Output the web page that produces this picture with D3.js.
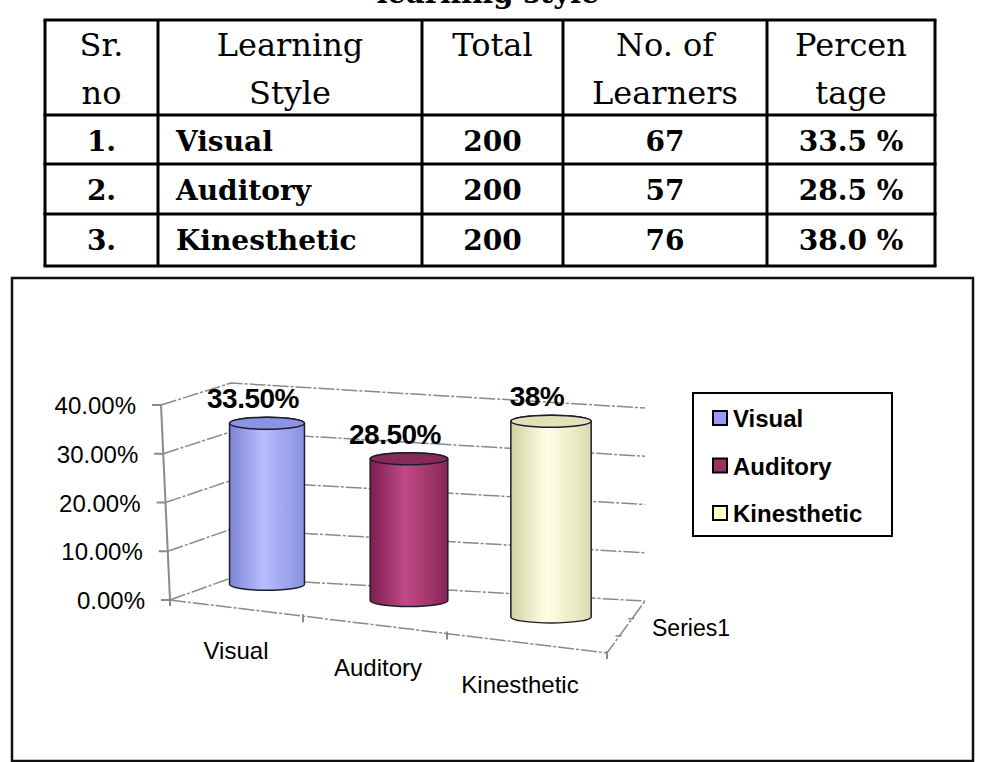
<!DOCTYPE html>
<html>
<head>
<meta charset="utf-8">
<script src="https://cdn.jsdelivr.net/npm/d3@7"></script>
<style>
body { margin: 0; background: #fff; }
</style>
</head>
<body>
<script>
// data
var categories = ["Visual", "Auditory", "Kinesthetic"];
var percentages = [33.5, 28.5, 38];
var barLabels = ["33.50%", "28.50%", "38%"];
var serialNos = ["1.", "2.", "3."];
var totals = [200, 200, 200];
var learners = [67, 57, 76];
var tablePercent = ["33.5 %", "28.5 %", "38.0 %"];
var headers = [["Sr.", "no"], ["Learning", "Style"], ["Total"], ["No. of", "Learners"], ["Percen", "tage"]];
var yTicks = [0, 10, 20, 30, 40];
var seriesName = "Series1";
var colors = ["#9999ff", "#993366", "#ffffcc"];

var W = 988, H = 762;
var svg = d3.select("body").append("svg")
    .attr("width", W)
    .attr("height", H);

var serif = "'DejaVu Serif', serif";
var sans = "'Liberation Sans', Arial, sans-serif";

// title (cut off at the top of the picture, as in the source)
svg.append("text")
    .attr("x", 488).attr("y", 3)
    .attr("text-anchor", "middle")
    .style("font-family", serif).style("font-weight", "bold").style("font-size", "29px")
    .text("learning  style");

// ---- table ----
var colX = [45, 158, 422, 563, 767, 935];
var rowY = [20, 115, 164, 214, 266];
var table = svg.append("g");

colX.forEach(function(x) {
    table.append("line").attr("x1", x).attr("x2", x).attr("y1", rowY[0]).attr("y2", rowY[4])
        .attr("stroke", "#000").attr("stroke-width", 3);
});
rowY.forEach(function(y) {
    table.append("line").attr("x1", colX[0] - 1.5).attr("x2", colX[5] + 1.5).attr("y1", y).attr("y2", y)
        .attr("stroke", "#000").attr("stroke-width", 3);
});

function colMid(i) { return (colX[i] + colX[i + 1]) / 2; }

headers.forEach(function(lines, i) {
    lines.forEach(function(t, j) {
        table.append("text")
            .attr("x", colMid(i)).attr("y", 56 + j * 48)
            .attr("text-anchor", "middle")
            .style("font-family", serif).style("font-size", "32px")
            .text(t);
    });
});

categories.forEach(function(c, r) {
    var y = rowY[r + 1] + 36;
    var cells = [serialNos[r], c, totals[r], learners[r], tablePercent[r]];
    cells.forEach(function(t, i) {
        table.append("text")
            .attr("x", i == 1 ? 176 : colMid(i)).attr("y", y)
            .attr("text-anchor", i == 1 ? "start" : "middle")
            .style("font-family", serif).style("font-weight", "bold").style("font-size", "28px")
            .text(t);
    });
});

// ---- chart box ----
svg.append("rect")
    .attr("x", 12).attr("y", 278).attr("width", 961).attr("height", 483)
    .attr("fill", "none").attr("stroke", "#111").attr("stroke-width", 2.5);

// walls (3d frame)
var yFront = d3.scaleLinear().domain([0, 40]).range([600, 405]);
var xFront = d3.scaleLinear().domain([0, 40]).range([170, 161]);
var yBackL = d3.scaleLinear().domain([0, 40]).range([578, 383]);
var yBackR = d3.scaleLinear().domain([0, 40]).range([601, 408]);
var backLX = 231, backRX = 645;
var frontEdge = d3.scaleLinear().domain([170, 607]).range([600, 653]);

var grid = svg.append("g")
    .attr("fill", "none").attr("stroke", "#8a8a8a").attr("stroke-width", 1.5);

yTicks.forEach(function(v) {
    grid.append("path")
        .attr("stroke-dasharray", "16,2,3,2")
        .attr("d", "M" + xFront(v) + "," + yFront(v) + "L" + backLX + "," + yBackL(v) + "L" + backRX + "," + yBackR(v));
    // tick mark
    grid.append("line")
        .attr("x1", xFront(v) - 9).attr("x2", xFront(v))
        .attr("y1", yFront(v)).attr("y2", yFront(v))
        .attr("stroke-width", 2);
    svg.append("text")
        .attr("x", xFront(v) - 25).attr("y", yFront(v) + 9)
        .attr("text-anchor", "end")
        .style("font-family", sans).style("font-size", "24px")
        .text(d3.format(".2%")(v / 100));
});

// y axis line
grid.append("line")
    .attr("x1", xFront(0)).attr("y1", yFront(0)).attr("x2", xFront(40)).attr("y2", yFront(40))
    .attr("stroke-width", 2);

// floor front and right edges
grid.append("path")
    .attr("stroke-dasharray", "16,2,3,2")
    .attr("d", "M170,600L607," + frontEdge(607) + "L" + backRX + "," + yBackR(0));

// category axis ticks
[170, 303, 447, 607].forEach(function(x) {
    grid.append("line")
        .attr("x1", x).attr("x2", x)
        .attr("y1", frontEdge(x) - 2).attr("y2", frontEdge(x) + 6)
        .attr("stroke-width", 2);
});
// series axis ticks
[0.33, 0.66].forEach(function(t) {
    var px = 607 + t * (backRX - 607), py = frontEdge(607) + t * (yBackR(0) - frontEdge(607));
    grid.append("line").attr("x1", px - 4).attr("x2", px + 2).attr("y1", py).attr("y2", py);
});

// ---- cylinders ----
var x = d3.scaleBand().domain(categories).range([196, 622]);
var floorY = d3.scaleLinear().domain([265, 552]).range([584, 617]);
var fullH = d3.scaleLinear().domain([265, 552]).range([192, 206]);

var gradColors = [
    ["#7d84d6", "#b8bdff", "#8990e0"],
    ["#7e1e4e", "#c04a86", "#8a2658"],
    ["#d2d2a4", "#ffffe6", "#dcdcb0"]
];
var topColors = ["#8d93e4", "#862a58", "#e2e2b8"];

var defs = svg.append("defs");
categories.forEach(function(c, i) {
    var g = defs.append("linearGradient").attr("id", "grad" + i)
        .attr("x1", 0).attr("x2", 1).attr("y1", 0).attr("y2", 0);
    g.append("stop").attr("offset", "0%").attr("stop-color", gradColors[i][0]);
    g.append("stop").attr("offset", "45%").attr("stop-color", gradColors[i][1]);
    g.append("stop").attr("offset", "100%").attr("stop-color", gradColors[i][2]);
});

var bars = svg.append("g");
categories.forEach(function(c, i) {
    var cx = x(c) + x.bandwidth() / 2;
    var y = d3.scaleLinear().domain([0, 40]).range([floorY(cx), floorY(cx) - fullH(cx)]);
    var yb = y(0), yt = y(percentages[i]);
    var rx = fullH(cx) * 0.195, ry = 6;

    bars.append("path")
        .attr("d", "M" + (cx - rx) + "," + yt +
            "L" + (cx - rx) + "," + yb +
            "A" + rx + "," + ry + " 0 0 0 " + (cx + rx) + "," + yb +
            "L" + (cx + rx) + "," + yt +
            "A" + rx + "," + ry + " 0 0 0 " + (cx - rx) + "," + yt + "Z")
        .attr("fill", "url(#grad" + i + ")")
        .attr("stroke", "#1c1c2c").attr("stroke-width", 1.5);

    bars.append("ellipse")
        .attr("cx", cx).attr("cy", yt).attr("rx", rx).attr("ry", ry)
        .attr("fill", topColors[i])
        .attr("stroke", "#1c1c2c").attr("stroke-width", 1.5);

    bars.append("text")
        .attr("x", cx - 14).attr("y", yt - 15)
        .attr("text-anchor", "middle")
        .style("font-family", sans).style("font-weight", "bold").style("font-size", "28px")
        .style("letter-spacing", "-0.5px")
        .text(barLabels[i]);

    var lx = cx - 31;
    svg.append("text")
        .attr("x", lx).attr("y", frontEdge(lx) + 51)
        .attr("text-anchor", "middle")
        .style("font-family", sans).style("font-size", "24px")
        .text(c);
});

svg.append("text")
    .attr("x", 652).attr("y", 636)
    .style("font-family", sans).style("font-size", "23px")
    .text(seriesName);

// ---- legend ----
var legend = svg.append("g");
legend.append("rect")
    .attr("x", 693).attr("y", 393).attr("width", 199).attr("height", 143)
    .attr("fill", "#fff").attr("stroke", "#000").attr("stroke-width", 2);

categories.forEach(function(c, i) {
    var cy = 418 + i * 47.5;
    legend.append("rect")
        .attr("x", 713).attr("y", cy - 7).attr("width", 14).attr("height", 14)
        .attr("fill", colors[i]).attr("stroke", "#000").attr("stroke-width", 2);
    legend.append("text")
        .attr("x", 733).attr("y", cy + 9)
        .style("font-family", sans).style("font-weight", "bold").style("font-size", "24px")
        .text(c);
});
</script>
</body>
</html>
